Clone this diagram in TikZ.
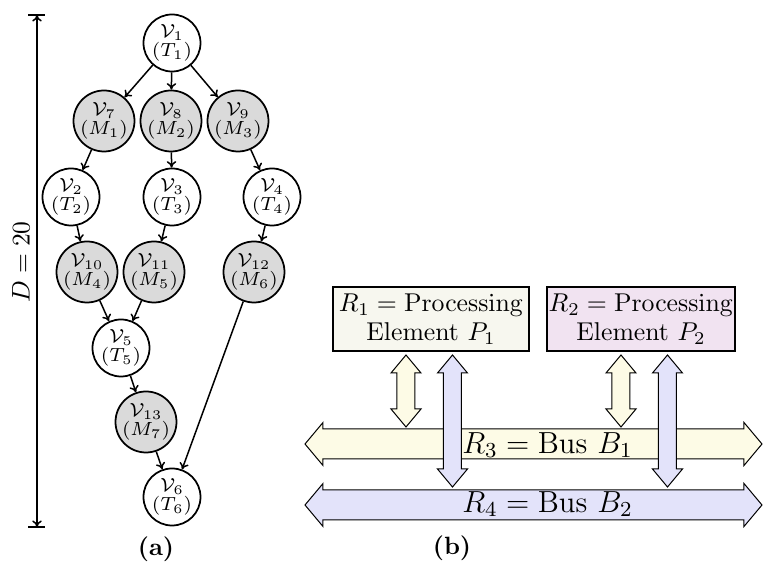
\RequirePackage{fix-cm}
\documentclass[tikz,border=0pt]{standalone}
\usetikzlibrary{arrows.meta}
\definecolor{grayfill}{HTML}{DADADA}
\definecolor{yel}{HTML}{FDFBE6}
\definecolor{blu}{HTML}{E3E3FA}
\definecolor{boxone}{HTML}{F7F7EF}
\definecolor{boxtwo}{HTML}{F1E3F1}
\newcommand{\vdarrow}[4]{%
  \filldraw[fill=#4,line width=0.4pt]
    (#1,#2) -- (#1+15,#2+18) -- (#1+9,#2+18) -- (#1+9,#3-18) -- (#1+15,#3-18)
    -- (#1,#3) -- (#1-15,#3-18) -- (#1-9,#3-18) -- (#1-9,#2+18) -- (#1-15,#2+18) -- cycle;}
\newcommand{\hdarrow}[4]{%
  \filldraw[fill=#4,line width=0.4pt]
    (#1,#3) -- (#1+18,#3-21.5) -- (#1+18,#3-15) -- (#2-18,#3-15) -- (#2-18,#3-21.5)
    -- (#2,#3) -- (#2-18,#3+21.5) -- (#2-18,#3+15) -- (#1+18,#3+15) -- (#1+18,#3+21.5) -- cycle;}
\begin{document}
\begin{tikzpicture}[x=0.4pt,y=-0.4pt,
  nodetext/.style={circle,draw,line width=0.7pt,inner sep=0pt,align=center,
    font=\fontsize{7.6}{6.6}\selectfont},
  tnode/.style={nodetext,fill=white,minimum size=22.8pt},
  mnode/.style={nodetext,fill=grayfill,minimum size=24.4pt},
  edge/.style={line width=0.6pt,-{To[length=2.6pt,width=3.8pt]}},
  pbox/.style={draw,line width=0.5pt,align=center,inner sep=0pt,
    minimum height=25.6pt,font=\fontsize{10.3}{11.6}\selectfont},
  buslabel/.style={inner sep=0pt,font=\fontsize{12.2}{14}\selectfont},
  caption/.style={inner sep=0pt,font=\fontsize{10}{12}\selectfont\bfseries}]
\useasboundingbox (0,0) rectangle (763,565);

% (a) task graph
\node[tnode] (v1) at (172,43) {$\mathcal{V}_1$\\$(T_1)$};
\node[mnode] (v7) at (104,121) {$\mathcal{V}_7$\\$(M_1)$};
\node[mnode] (v8) at (171,121) {$\mathcal{V}_8$\\$(M_2)$};
\node[mnode] (v9) at (238,121) {$\mathcal{V}_9$\\$(M_3)$};
\node[tnode] (v2) at (71,197) {$\mathcal{V}_2$\\$(T_2)$};
\node[tnode] (v3) at (172,197) {$\mathcal{V}_3$\\$(T_3)$};
\node[tnode] (v4) at (272,197) {$\mathcal{V}_4$\\$(T_4)$};
\node[mnode] (v10) at (87,272) {$\mathcal{V}_{10}$\\$(M_4)$};
\node[mnode] (v11) at (154,272) {$\mathcal{V}_{11}$\\$(M_5)$};
\node[mnode] (v12) at (254,272) {$\mathcal{V}_{12}$\\$(M_6)$};
\node[tnode] (v5) at (121,348) {$\mathcal{V}_5$\\$(T_5)$};
\node[mnode] (v13) at (146,422) {$\mathcal{V}_{13}$\\$(M_7)$};
\node[tnode] (v6) at (172,497) {$\mathcal{V}_6$\\$(T_6)$};

\draw[edge] (v1) -- (v7);
\draw[edge] (v1) -- (v8);
\draw[edge] (v1) -- (v9);
\draw[edge] (v7) -- (v2);
\draw[edge] (v8) -- (v3);
\draw[edge] (v9) -- (v4);
\draw[edge] (v2) -- (v10);
\draw[edge] (v3) -- (v11);
\draw[edge] (v4) -- (v12);
\draw[edge] (v10) -- (v5);
\draw[edge] (v11) -- (v5);
\draw[edge] (v5) -- (v13);
\draw[edge] (v13) -- (v6);
\draw[edge] (v12) -- (v6);

% deadline
\coordinate (dtop) at (37,15);
\coordinate (dbot) at (37,527);
\draw[line width=0.6pt,{To[length=2.6pt,width=3.8pt]}-{To[length=2.6pt,width=3.8pt]}] (dtop) -- (dbot);
\draw[line width=0.7pt] ([xshift=-3.4pt]dtop) -- ([xshift=3.4pt]dtop);
\draw[line width=0.7pt] ([xshift=-3.4pt]dbot) -- ([xshift=3.4pt]dbot);
\node[rotate=90,inner sep=0pt,font=\fontsize{10.2}{12}\selectfont] (dlabel) at (21,262) {$D=20$};

\node[caption] (capa) at (156,549) {(a)};

% (b) architecture
\node[pbox,fill=boxone,minimum width=78.4pt] (r1) at (431,319) {$R_1=\mathrm{Processing}$\\Element $P_1$};
\node[pbox,fill=boxtwo,minimum width=75.2pt] (r2) at (641,319) {$R_2=\mathrm{Processing}$\\Element $P_2$};

\hdarrow{305}{762}{505}{blu}
\hdarrow{305}{762}{444}{yel}
\vdarrow{406}{355}{427}{yel}
\vdarrow{621}{355}{427}{yel}
\vdarrow{452.5}{355}{487}{blu}
\vdarrow{667.5}{355}{487}{blu}

\node[buslabel] (r3) at (547.5,445) {$R_3=\mathrm{Bus}\ B_1$};
\node[buslabel] (r4) at (547.5,504) {$R_4=\mathrm{Bus}\ B_2$};

\node[caption] (capb) at (452,548) {(b)};
\end{tikzpicture}
\end{document}
